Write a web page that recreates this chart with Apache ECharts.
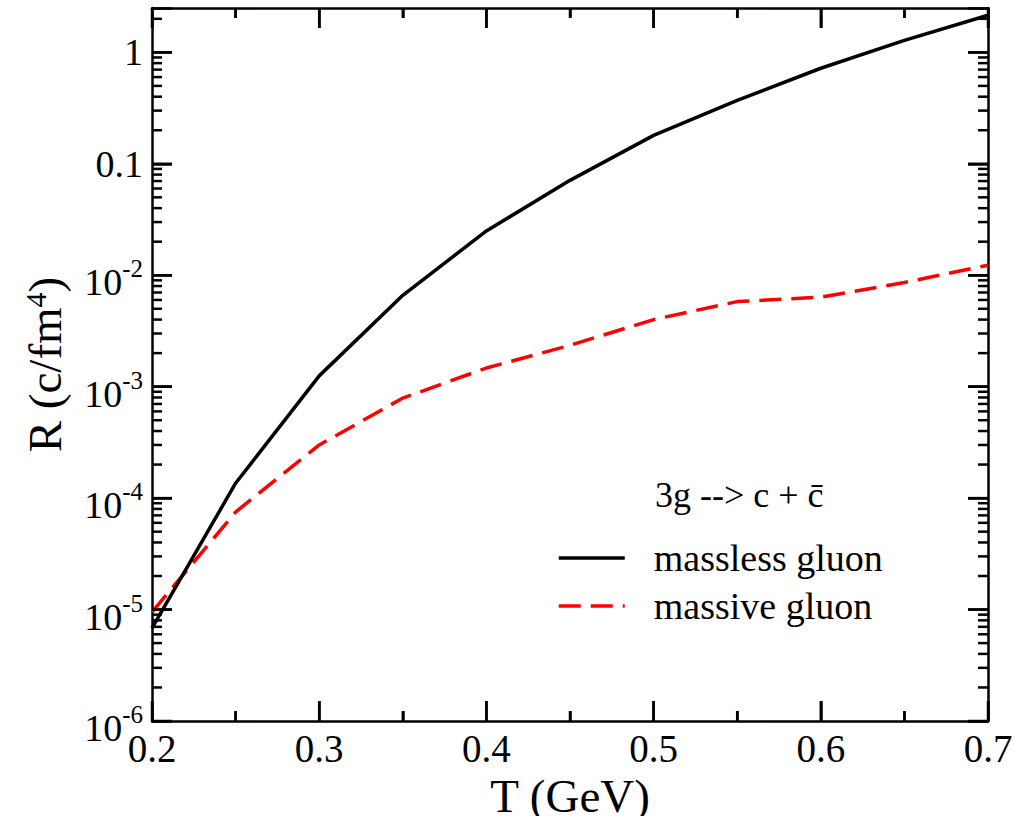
<!DOCTYPE html>
<html>
<head>
<meta charset="utf-8">
<script src="https://cdn.jsdelivr.net/npm/echarts@6/dist/echarts.min.js"></script>
<style>html,body{margin:0;padding:0;background:#fff;}#chart{width:1015px;height:816px;}</style>
</head>
<body>
<div id="chart"></div>
<script>
// Data
const temperatures = [0.2, 0.25, 0.3, 0.35, 0.4, 0.45, 0.5, 0.55, 0.6, 0.65, 0.7];
const masslessGluon = [6.8e-6, 1.36e-4, 1.25e-3, 6.6e-3, 0.025, 0.071, 0.18, 0.37, 0.72, 1.28, 2.15];
const massiveGluon = [9.5e-6, 7.5e-5, 3.0e-4, 7.9e-4, 1.47e-3, 2.35e-3, 4.0e-3, 5.8e-3, 6.35e-3, 8.6e-3, 1.23e-2];
const seriesNames = ['massless gluon', 'massive gluon'];
const processLabel = '3g --> c + c\u0304';
const xTitle = 'T (GeV)';
// Axis ranges and ticks
const xMin = 0.2, xMax = 0.7, xInterval = 0.1;
const yMin = 1e-6, yMax = 2.5;
const xMajorTicks = [0.2, 0.3, 0.4, 0.5, 0.6, 0.7];
const xMinorTicks = [0.25, 0.35, 0.45, 0.55, 0.65];
const yMajorTicks = [1e-6, 1e-5, 1e-4, 1e-3, 1e-2, 0.1, 1];
const yTickLabels = {'0': '1', '-1': '0.1'};
const minorMantissas = [2, 3, 4, 5, 6, 7, 8, 9];

const FONT = "'Liberation Serif','DejaVu Serif',serif";
// tick records: [x, y, orientation (0 = x-axis tick, 1 = y-axis tick), length]
const tickRecords = [];
xMajorTicks.forEach(x => tickRecords.push([x, yMin, 0, 20]));
xMinorTicks.forEach(x => tickRecords.push([x, yMin, 0, 10]));
yMajorTicks.forEach(y => tickRecords.push([xMin, y, 1, 20]));
yMajorTicks.forEach(y => minorMantissas.forEach(m => { if (m * y < yMax) tickRecords.push([xMin, m * y, 1, 10]); }));

const chart = echarts.init(document.getElementById('chart'), null, {renderer: 'svg'});
function tickOpt() { return {show: true, inside: true, length: 20, lineStyle: {color: '#000', width: 2.5}}; }
function minorOpt() { return {show: true, splitNumber: 2, length: 10, lineStyle: {color: '#000', width: 2.5}}; }
function lineOpt() { return {show: true, onZero: false, lineStyle: {color: '#000', width: 2.5}}; }
const option = {
  backgroundColor: '#fff',
  animation: false,
  title: {
    text: processLabel, left: 650, top: 472,
    textStyle: {fontFamily: FONT, fontSize: 36, fontWeight: 'normal', color: '#000'}
  },
  legend: {
    data: seriesNames, orient: 'vertical', left: 552, top: 533,
    itemWidth: 66, itemHeight: 14, itemGap: 8,
    itemStyle: {color: 'transparent', borderWidth: 0, opacity: 0},
    lineStyle: {width: 3.5},
    textStyle: {fontFamily: FONT, fontSize: 38, color: '#000', lineHeight: 40, padding: [0, 0, 0, 24]}
  },
  grid: {left: 152, right: 27, top: 8, bottom: 95, outerBoundsMode: 'none'},
  xAxis: [{
    type: 'value', min: xMin, max: xMax, interval: xInterval,
    axisLine: lineOpt(), axisTick: tickOpt(), minorTick: minorOpt(), splitLine: {show: false},
    axisLabel: {fontFamily: FONT, fontSize: 39, color: '#000', margin: 8, formatter: v => v.toFixed(1)},
    name: xTitle, nameLocation: 'middle', nameGap: 40,
    nameTextStyle: {fontFamily: FONT, fontSize: 47, color: '#000'}
  }, {
    type: 'value', min: xMin, max: xMax, interval: xInterval, position: 'top',
    axisLine: lineOpt(), axisTick: tickOpt(), minorTick: minorOpt(), splitLine: {show: false},
    axisLabel: {show: false}
  }],
  yAxis: [{
    type: 'log', logBase: 10, min: yMin, max: yMax,
    axisLine: lineOpt(), axisTick: tickOpt(), splitLine: {show: false},
    axisLabel: {
      margin: 9,
      formatter: function (v) {
        const e = Math.round(Math.log10(v));
        if (Math.abs(Math.log10(v) - e) > 1e-6) return '';
        if (yTickLabels[String(e)] !== undefined) return '{n|' + yTickLabels[String(e)] + '}';
        return '{b|10}{s|' + e + '}';
      },
      rich: {
        n: {fontFamily: FONT, fontSize: 38, color: '#000', lineHeight: 40},
        b: {fontFamily: FONT, fontSize: 38, color: '#000', lineHeight: 38, padding: [14, 0, 0, 0]},
        s: {fontFamily: FONT, fontSize: 25, color: '#000', lineHeight: 25, verticalAlign: 'top'}
      }
    },
    name: '{t|R (c/fm}{u|4}{t|)}', nameLocation: 'middle', nameRotate: 90, nameGap: 82,
    nameTextStyle: {rich: {
      t: {fontFamily: FONT, fontSize: 47, color: '#000', lineHeight: 50},
      u: {fontFamily: FONT, fontSize: 30, color: '#000', lineHeight: 30, verticalAlign: 'top'}
    }}
  }, {
    type: 'log', logBase: 10, min: yMin, max: yMax, position: 'right',
    axisLine: lineOpt(), axisTick: tickOpt(), splitLine: {show: false}, axisLabel: {show: false}
  }],
  series: [{
    name: seriesNames[0], type: 'line',
    data: temperatures.map((t, i) => [t, masslessGluon[i]]),
    symbol: 'none', z: 5,
    lineStyle: {color: '#000', width: 3.5}, itemStyle: {color: '#000'}
  }, {
    name: seriesNames[1], type: 'line',
    data: temperatures.map((t, i) => [t, massiveGluon[i]]),
    symbol: 'none', z: 4,
    lineStyle: {color: '#ff0000', width: 3.5, type: [22, 10]}, itemStyle: {color: '#ff0000'}
  }, {
    name: 'frameTicks', type: 'custom', data: tickRecords, encode: {x: 0, y: 1},
    silent: true, z: 50, clip: false,
    renderItem: function (params, api) {
      const x = api.value(0), y = api.value(1), o = api.value(2), len = api.value(3);
      const st = {stroke: '#000', lineWidth: 2.5};
      if (o === 0) {
        const b = api.coord([x, yMin]), t = api.coord([x, yMax]);
        return {type: 'group', children: [
          {type: 'line', shape: {x1: b[0], y1: b[1], x2: b[0], y2: b[1] - len}, style: st},
          {type: 'line', shape: {x1: t[0], y1: t[1], x2: t[0], y2: t[1] + len}, style: st}]};
      }
      const l = api.coord([xMin, y]), r = api.coord([xMax, y]);
      return {type: 'group', children: [
        {type: 'line', shape: {x1: l[0], y1: l[1], x2: l[0] + len, y2: l[1]}, style: st},
        {type: 'line', shape: {x1: r[0] - len, y1: r[1], x2: r[0], y2: r[1]}, style: st}]};
    }
  }]
};
chart.setOption(option);
</script>
</body>
</html>
